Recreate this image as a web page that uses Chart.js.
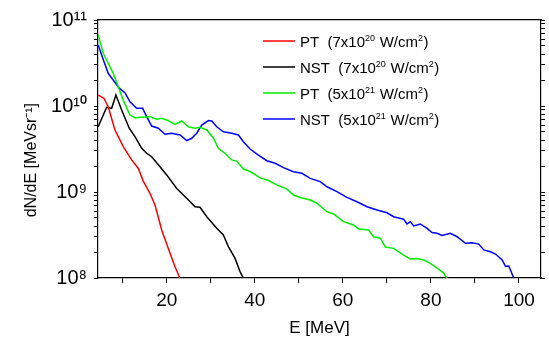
<!DOCTYPE html>
<html>
<head>
<meta charset="utf-8">
<script src="https://cdn.jsdelivr.net/npm/chart.js@4.4.0/dist/chart.umd.min.js"></script>
<style>
html,body{margin:0;padding:0;background:#fff;}
canvas{display:block;}
</style>
</head>
<body>
<canvas id="c" width="549" height="339"></canvas>
<script>
// Energy (MeV) and dN/dE values
const ptLowE = [4.45,5.74,6.72,8.25,10.13,12.04,13.54,14.68,16.2,17.34,18.87,20.37,21.89,23.03];
const ptLowN = [1.34e10,1.23e10,9.8e9,5.26e9,3.37e9,2.36e9,1.89e9,1.34e9,9.66e8,7.06e8,3.61e8,2.21e8,1.35e8,0.99e8];

const nstLowE = [4.45,6.36,7.5,8.47,9.77,11.5,12.79,14.32,15.45,16.59,18.48,20.0,22.28,24.55,26.44,27.57,29.1,31.37,32.87,34.01,35.53,36.67,37.42];
const nstLowN = [5.74e9,9.66e9,9.4e9,1.34e10,8.97e9,5.51e9,4.40e9,3.22e9,2.82e9,2.57e9,1.97e9,1.58e9,1.10e9,8.45e8,6.75e8,6.64e8,5.16e8,3.78e8,3.16e8,2.31e8,1.69e8,1.18e8,0.99e8];

const ptHighE = [4.45,5.59,6.72,7.86,9.0,10.13,11.66,12.79,14.32,16.2,17.73,18.87,20.37,21.89,23.41,24.91,26.44,27.57,29.1,30.6,31.74,33.26,34.78,35.92,37.42,38.94,41.22,43.11,45.02,47.29,48.79,50.32,52.59,54.11,56.39,57.89,60.16,62.44,63.58,65.85,66.98,68.51,69.65,71.53,73.81,75.33,76.85,78.35,79.88,81.4,82.9,83.67];
const ptHighN = [6.70e10,4.10e10,3.14e10,2.40e10,1.67e10,1.17e10,7.85e9,7.31e9,7.40e9,7.52e9,7.00e9,7.19e9,6.75e9,6.12e9,6.70e9,5.74e9,5.51e9,5.65e9,5.26e9,4.25e9,3.22e9,2.82e9,2.36e9,2.29e9,1.85e9,1.73e9,1.46e9,1.36e9,1.21e9,1.08e9,9.23e8,8.63e8,8.07e8,7.40e8,5.90e8,5.55e8,4.52e8,4.13e8,3.72e8,3.61e8,3.02e8,2.90e8,2.29e8,2.21e8,1.85e8,1.66e8,1.69e8,1.62e8,1.48e8,1.30e8,1.14e8,0.99e8];

const nstHighE = [4.45,5.22,6.72,7.86,9.22,10.52,11.66,13.18,14.54,15.45,16.59,18.09,19.62,21.14,23.03,24.55,25.69,26.82,27.96,29.46,30.24,31.37,32.87,34.78,36.28,37.42,38.94,40.83,42.74,44.63,46.52,48.79,50.7,52.59,54.86,56.39,58.66,60.93,63.21,65.48,67.76,70.03,71.53,73.81,74.58,75.33,76.08,77.6,79.13,80.26,81.4,82.54,84.42,85.95,87.84,89.36,90.86,92.0,93.52,94.66,96.18,96.93,97.68,98.82];
const nstHighN = [5.12e10,3.92e10,2.40e10,2.00e10,1.61e10,1.43e10,1.12e10,9.40e9,9.40e9,7.52e9,5.85e9,5.51e9,4.69e9,4.82e9,4.60e9,3.97e9,4.21e9,4.82e9,6.01e9,6.78e9,6.70e9,5.74e9,5.02e9,4.82e9,4.60e9,3.85e9,3.16e9,2.69e9,2.31e9,2.16e9,1.92e9,1.72e9,1.65e9,1.44e9,1.32e9,1.15e9,1.01e9,8.67e8,7.71e8,6.75e8,6.18e8,5.74e8,5.16e8,4.82e8,4.25e8,4.52e8,4.03e8,4.25e8,3.78e8,3.38e8,3.31e8,3.12e8,3.31e8,3.02e8,2.53e8,2.57e8,2.48e8,2.12e8,2.02e8,1.90e8,1.62e8,1.37e8,1.38e8,1.0e8];

// Legend labels: [normal, superscript, normal, superscript, normal]
const seriesLabels = [
  ['PT  (7x10', '20', ' W/cm', '2', ')'],
  ['NST  (7x10', '20', ' W/cm', '2', ')'],
  ['PT  (5x10', '21', ' W/cm', '2', ')'],
  ['NST  (5x10', '21', ' W/cm', '2', ')']
];
const seriesColors = ['#ff0000', '#000000', '#00ee00', '#0000ff'];

const xTickValues = [10,20,30,40,50,60,70,80,90,100];
const yTickValues = [];
for (let e = 8; e <= 10; e++) for (let m = 1; m <= 9; m++) yTickValues.push(m * Math.pow(10, e));
yTickValues.push(1e11);
const supDigits = {'0':'⁰','1':'¹','2':'²','3':'³','4':'⁴','5':'⁵','6':'⁶','7':'⁷','8':'⁸','9':'⁹'};

function pts(xs, ys) { return xs.map((x, i) => ({x: x, y: ys[i]})); }

const seriesData = [pts(ptLowE, ptLowN), pts(nstLowE, nstLowN), pts(ptHighE, ptHighN), pts(nstHighE, nstHighN)];

const FONT = '"Liberation Sans", Arial, Helvetica, sans-serif';

const legendPlugin = {
  id: 'customLegend',
  afterDraw(chart) {
    const ctx = chart.ctx;
    ctx.save();
    const x0 = 263, x1 = 295, tx = 300;
    const rows = [41, 67, 93, 119];
    seriesLabels.forEach((parts, i) => {
      const y = rows[i];
      ctx.strokeStyle = seriesColors[i];
      ctx.lineWidth = 1.5;
      ctx.beginPath(); ctx.moveTo(x0, y); ctx.lineTo(x1, y); ctx.stroke();
      let x = tx;
      ctx.fillStyle = '#000';
      ctx.textBaseline = 'alphabetic';
      parts.forEach((p, k) => {
        const sup = k % 2 === 1;
        ctx.font = (sup ? '9px ' : '15px ') + FONT;
        ctx.fillText(p, x, sup ? y - 0 : y + 5.5);
        x += ctx.measureText(p).width + (sup ? 0.5 : 0);
      });
    });
    ctx.restore();
  }
};

new Chart(document.getElementById('c'), {
  type: 'line',
  data: {
    datasets: seriesData.map((d, i) => ({
      label: seriesLabels[i].join(''),
      data: d,
      borderColor: seriesColors[i],
      backgroundColor: seriesColors[i],
      borderWidth: 1.5,
      pointRadius: 0,
      tension: 0,
      fill: false
    }))
  },
  options: {
    responsive: false,
    animation: false,
    layout: {padding: 0},
    plugins: {legend: {display: false}, tooltip: {enabled: false}},
    scales: {
      x: {
        type: 'linear', position: 'bottom', min: 4.4, max: 105,
        afterBuildTicks: ax => { ax.ticks = xTickValues.map(v => ({value: v})); },
        afterFit: s => { s.height = 61; },
        grid: {drawOnChartArea: false, drawTicks: true, tickLength: 5, color: '#000', tickWidth: 1},
        border: {color: '#000', width: 1.2},
        ticks: {autoSkip: false, maxRotation: 0, color: '#000', padding: 6,
          font: {family: FONT, size: 19},
          callback: v => (v % 20 === 0 ? String(v) : '')},
        title: {display: true, text: 'E [MeV]', color: '#000', font: {family: FONT, size: 17}, padding: {top: 0, bottom: 0}}
      },
      xTop: {
        type: 'linear', position: 'top', min: 4.4, max: 105,
        afterFit: s => { s.height = 20; },
        grid: {drawOnChartArea: false, drawTicks: false},
        border: {color: '#000', width: 1.2},
        ticks: {display: false}
      },
      y: {
        type: 'logarithmic', position: 'left', min: 1e8, max: 1e11,
        afterBuildTicks: ax => { ax.ticks = yTickValues.map(v => ({value: v})); },
        afterFit: s => { s.width = 98; },
        grid: {drawOnChartArea: false, drawTicks: true, tickLength: 4, color: '#000'},
        border: {color: '#000', width: 1.2},
        ticks: {autoSkip: false, color: '#000', padding: 7,
          font: {family: FONT, size: 20},
          callback: v => {
            const l = Math.log10(v);
            if (Math.abs(l - Math.round(l)) > 1e-9) return '';
            return '10' + String(Math.round(l)).split('').map(c => supDigits[c]).join('');
          }},
        title: {display: true, text: 'dN/dE [MeVsr⁻¹]     ', color: '#000', font: {family: FONT, size: 16}, padding: {top: 22, bottom: 0}}
      },
      yRight: {
        type: 'logarithmic', position: 'right', min: 1e8, max: 1e11,
        afterBuildTicks: ax => { ax.ticks = yTickValues.map(v => ({value: v})); },
        afterFit: s => { s.width = 8; },
        grid: {drawOnChartArea: false, drawTicks: true, tickLength: 4, color: '#000'},
        border: {color: '#000', width: 1.2},
        ticks: {display: false}
      }
    }
  },
  plugins: [legendPlugin]
});
</script>
</body>
</html>
